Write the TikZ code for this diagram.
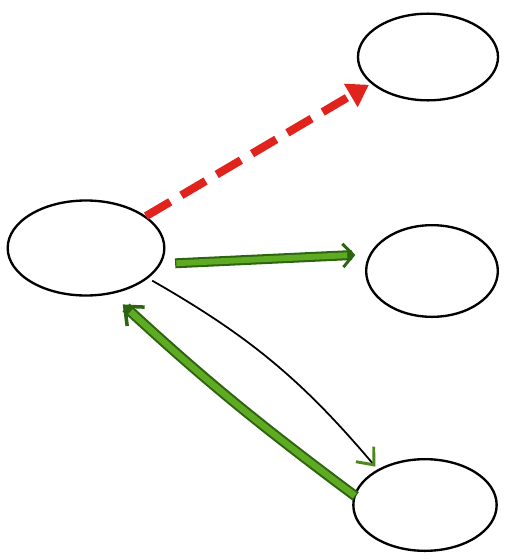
\documentclass[tikz,border=0pt]{standalone}
\usetikzlibrary{shapes.geometric,arrows.meta}
\definecolor{sketchred}{RGB}{225,35,30}
\definecolor{sketchgreen}{RGB}{95,170,35}
\definecolor{darkgreen}{RGB}{45,100,15}
\tikzset{
  blob/.style={draw, ellipse, line width=2pt, minimum width=4.3cm, minimum height=2.75cm},
  fat/.style={line width=7pt, line cap=round},
}
\begin{document}
\begin{tikzpicture}[x=0.03cm, y=-0.03cm]
    \useasboundingbox (0,0) rectangle (505,559);
    \node[blob, minimum width=4.7cm, minimum height=2.85cm] (src) at (86,248) {};
    \node[blob, minimum width=4.2cm, minimum height=2.6cm] (top) at (428,57) {};
    \node[blob, minimum width=3.95cm] (mid) at (432,271) {};
    \node[blob] (bot) at (425,505) {};
    \draw[fat, sketchred, line cap=butt, dash pattern=on 24pt off 11pt, -{Triangle[length=18pt, width=22pt]}, shorten <=0pt, shorten >=2pt] (src.28) -- (top.205);
    \draw[fat, darkgreen, line width=8.5pt, line cap=butt, -{Straight Barb[length=9pt, width=20pt, line width=2.5pt]}, shorten <=12pt, shorten >=12pt] (src.-12) -- (mid.165);
    \draw[fat, sketchgreen, line width=5pt, line cap=butt, shorten <=13pt, shorten >=19pt] (src.-12) -- (mid.165);
    \draw[line width=1.5pt, -{Straight Barb[length=12pt, width=20pt, line width=2.5pt, color=sketchgreen!80!black]}, shorten <=4pt, shorten >=3pt] (src.-26) to[bend left=10] (bot.143);
    \draw[fat, darkgreen, line width=9pt, line cap=butt, -{Straight Barb[length=13pt, width=22pt, line width=3pt]}, shorten <=-2pt, shorten >=13pt] (bot.172) to[bend left=3] (src.-61);
    \draw[fat, sketchgreen, line width=5.5pt, line cap=butt, shorten <=-1pt, shorten >=22pt] (bot.172) to[bend left=3] (src.-61);
\end{tikzpicture}
\end{document}
